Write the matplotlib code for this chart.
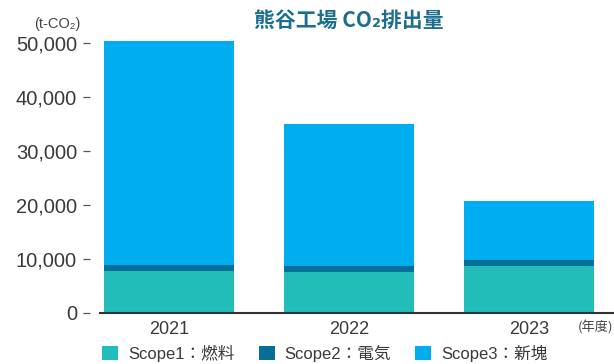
import numpy as np
import matplotlib.pyplot as plt

years = ["2021", "2022", "2023"]
scope1 = [7790, 7610, 8720]
scope2 = [1110, 1110, 1110]
scope3 = [41560, 26340, 10950]
yticks = [0, 10000, 20000, 30000, 40000, 50000]
legend_labels = ["Scope1：燃料", "Scope2：電気", "Scope3：新塊"]
colors = ["#22bcb9", "#066f98", "#00aeef"]

plt.rcParams['font.family'] = ['Liberation Sans', 'Noto Sans CJK JP', 'DejaVu Sans']

W, H = 614, 364
fig = plt.figure(figsize=(W / 100, H / 100), dpi=100)
# axes box in pixels: left spine at x=90, baseline at y=313
ax = fig.add_axes([90 / W, (H - 313) / H, (W - 90) / W, (313 - 30) / H])

x = np.arange(len(years))
s1 = np.array(scope1)
s2 = np.array(scope2)
s3 = np.array(scope3)
w = 0.722
ax.bar(x, s1, w, color=colors[0], label=legend_labels[0])
ax.bar(x, s2, w, bottom=s1, color=colors[1], label=legend_labels[1])
ax.bar(x, s3, w, bottom=s1 + s2, color=colors[2], label=legend_labels[2])

ax.set_xlim(-0.439, 2.472)
ax.set_ylim(0, 52500)
ax.set_yticks(yticks)
ax.set_yticklabels([f"{v:,}" for v in yticks])
ax.set_xticks(x)
ax.set_xticklabels(years)

for s in ax.spines.values():
    s.set_visible(False)
ax.axhline(0, xmin=(100 - 90) / (W - 90), xmax=1, color="#333333", lw=1.5, clip_on=False)

ax.tick_params(axis="y", length=5, width=0.9, color="#555555", pad=4.3,
               labelsize=14.5, labelcolor="#3a3a3a")
ax.tick_params(axis="x", length=0, pad=6, labelsize=13, labelcolor="#3a3a3a")

fig.text(349 / W, 1 - 20 / H, "熊谷工場 CO₂排出量", ha="center", va="center",
         fontsize=15, fontweight="bold", color="#1b6e8e",
         family=['Noto Sans CJK JP', 'DejaVu Sans'])
fig.text(57 / W, 1 - 24 / H, "(t-CO₂)", ha="center", va="center",
         fontsize=10.5, color="#444444")
fig.text(613 / W, 1 - 328 / H, "(年度)", ha="right", va="center",
         fontsize=9.5, color="#444444", family=['Noto Sans CJK JP', 'DejaVu Sans'])

ax.legend(loc="center left", bbox_to_anchor=(102 / W, 1 - 353 / H), bbox_transform=fig.transFigure,
          ncol=3, frameon=False, handlelength=0.96, handleheight=0.96,
          handletextpad=0.6, columnspacing=1.45, fontsize=12,
          labelcolor="#3a3a3a", borderaxespad=0, borderpad=0)

fig.savefig("out.png", dpi=100)
